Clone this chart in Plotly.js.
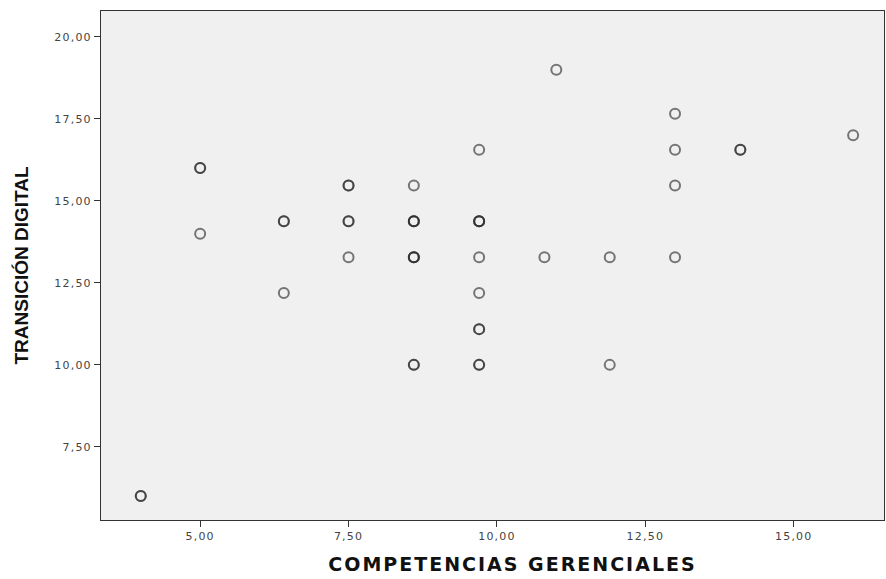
<!DOCTYPE html>
<html>
<head>
<meta charset="utf-8">
<script src="https://cdn.plot.ly/plotly-3.0.1.min.js"></script>
<style>
html,body{margin:0;padding:0;background:#fff;}
#chart{width:886px;height:579px;}
#chart .xtick text, #chart .ytick text{letter-spacing:1.2px;}
#chart .xtitle{letter-spacing:2px; transform: translateX(20px);}
</style>
</head>
<body>
<div id="chart"></div>
<script>
// Competencias gerenciales (x) vs Transición digital (y); repeated pairs are overlapping cases
const competencias = [4.0, 4.0, 5.0, 5.0, 5.0, 6.41, 6.41, 6.41, 7.5, 7.5, 7.5, 7.5, 7.5,
  8.6, 8.6, 8.6, 8.6, 8.6, 8.6, 8.6, 8.6, 8.6,
  9.7, 9.7, 9.7, 9.7, 9.7, 9.7, 9.7, 9.7, 9.7, 9.7,
  10.8, 11.0, 11.9, 11.9, 13.0, 13.0, 13.0, 13.0, 14.1, 14.1, 16.0];
const transicion = [6.0, 6.0, 16.0, 16.0, 14.0, 14.38, 14.38, 12.19, 15.47, 15.47, 14.38, 14.38, 13.28,
  15.47, 14.38, 14.38, 14.38, 13.28, 13.28, 13.28, 10.0, 10.0,
  16.56, 14.38, 14.38, 14.38, 13.28, 12.19, 11.09, 11.09, 10.0, 10.0,
  13.28, 19.0, 13.28, 10.0, 17.66, 16.56, 15.47, 13.28, 16.56, 16.56, 17.0];
const xTicks = [5, 7.5, 10, 12.5, 15];
const yTicks = [7.5, 10, 12.5, 15, 17.5, 20];

const trace = {
  type: 'scatter', mode: 'markers',
  x: competencias, y: transicion,
  marker: {symbol: 'circle-open', size: 10, color: 'rgba(40,40,40,0.62)', line: {width: 2, color: 'rgba(40,40,40,0.62)'}},
  hoverinfo: 'x+y'
};

const tickFont = {family: 'DejaVu Sans, sans-serif', size: 11, color: '#444'};
const xTitleFont = {family: 'DejaVu Sans, sans-serif', size: 19, color: '#111', weight: 'bold'};
const yTitleFont = {family: 'Liberation Sans, Arial, sans-serif', size: 19, color: '#111', weight: 'bold'};

const layout = {
  width: 886, height: 579,
  margin: {l: 101, r: 2, t: 11, b: 59},
  paper_bgcolor: '#ffffff', plot_bgcolor: '#f0f0f0',
  separators: ', ',
  showlegend: false,
  xaxis: {
    range: [3.33, 16.52], tickvals: xTicks, tickformat: '.2f',
    ticks: 'outside', ticklen: 6, tickwidth: 1, tickcolor: '#333',
    showline: true, linecolor: '#333', linewidth: 1, mirror: true,
    showgrid: false, zeroline: false, tickfont: tickFont,
    title: {text: 'COMPETENCIAS GERENCIALES', font: xTitleFont, standoff: 15}
  },
  yaxis: {
    range: [5.27, 20.79], tickvals: yTicks, tickformat: '.2f',
    ticks: 'outside', ticklen: 6, tickwidth: 1, tickcolor: '#333',
    showline: true, linecolor: '#333', linewidth: 1, mirror: true,
    showgrid: false, zeroline: false, tickfont: tickFont,
    title: {text: 'TRANSICIÓN DIGITAL', font: yTitleFont, standoff: 26}
  }
};

Plotly.newPlot('chart', [trace], layout, {displayModeBar: false, staticPlot: true});
</script>
</body>
</html>
